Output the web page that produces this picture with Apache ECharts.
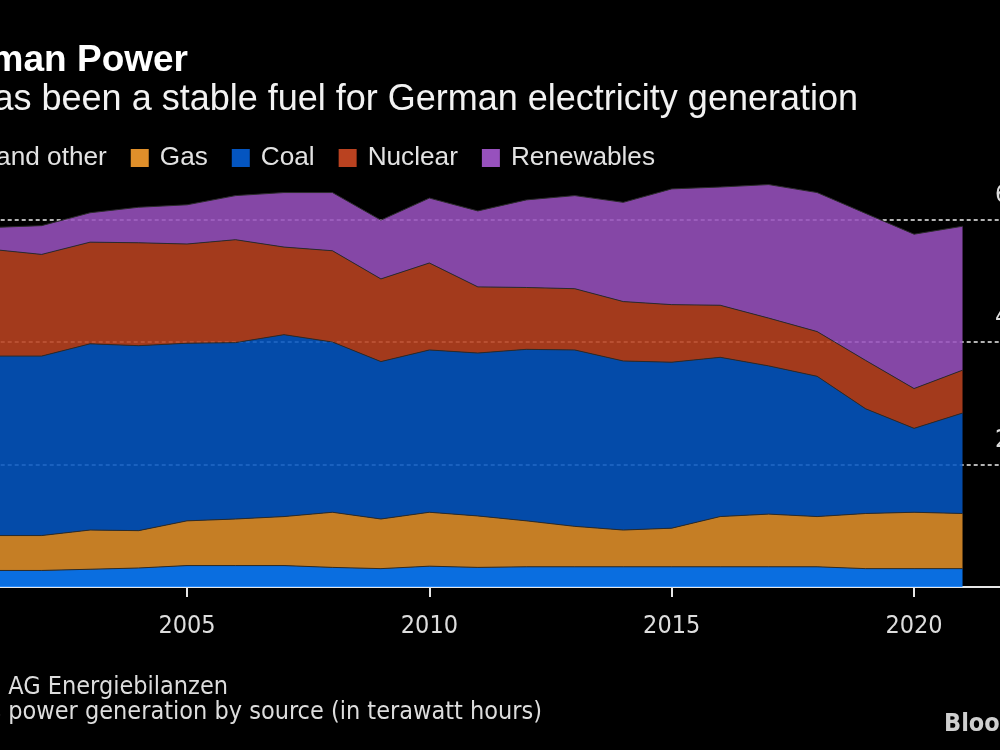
<!DOCTYPE html>
<html>
<head>
<meta charset="utf-8">
<script src="https://cdn.jsdelivr.net/npm/echarts@6/dist/echarts.min.js"></script>
<style>
html,body{margin:0;padding:0;background:#000;overflow:hidden;width:1000px;height:750px;position:relative}
#chart{position:absolute;left:-100px;top:0;width:1200px;height:750px}
</style>
</head>
<body>
<div id="chart"></div>
<script>
// ---- data (TWh) ----
const years      = ['2000','2001','2002','2003','2004','2005','2006','2007','2008','2009','2010','2011','2012','2013','2014','2015','2016','2017','2018','2019','2020','2021','2022'];
const oilOther   = [27, 27, 27, 29, 31, 35, 35, 35, 32, 30, 34, 32, 33, 33, 33, 33, 33, 33, 33, 30, 30, 30];
const gas        = [49, 57, 57, 64, 61, 73, 76, 80, 90, 81, 88, 84, 75, 66, 60, 63, 82, 86, 82, 90, 92, 90];
const coal       = [291,293,293,304,302,290,288,297,278,257,265,266,280,288,276,271,260,242,229,171,137,164];
const nuclear    = [170,174,166,166,168,162,168,143,149,135,142,108,101,100, 97, 94, 85, 78, 73, 79, 65, 70];
const renewables = [38, 36, 47, 48, 58, 64, 72, 89, 95, 96,106,124,143,152,162,189,193,218,227,240,252,235];
const seriesNames = ['Oil and other','Gas','Coal','Nuclear','Renewables'];
const seriesColors = ['#0b7dff','#e08f2a','#0455c0','#ba4220','#9751bd'];
const yTicks = [0,200,400,600,800];

const OFF = 100; // container is shifted left by this many px
const condensed = '"DejaVu Sans Condensed","Liberation Sans Narrow",sans-serif';
const sans = '"Liberation Sans",Arial,sans-serif';

const valueSets = [oilOther, gas, coal, nuclear, renewables];
const series = seriesNames.map((name, k) => ({
  name: name,
  type: 'line',
  stack: 'total',
  data: valueSets[k],
  symbol: 'none',
  showSymbol: false,
  smooth: false,
  color: seriesColors[k],
  itemStyle: { color: seriesColors[k] },
  lineStyle: { width: 1, color: '#2b2b2b' },
  areaStyle: { color: seriesColors[k], opacity: 0.88 },
  emphasis: { disabled: true },
  silent: true,
  z: 2
}));

const chart = echarts.init(document.getElementById('chart'), null, { renderer: 'canvas' });
chart.setOption({
  backgroundColor: '#000',
  animation: false,
  grid: { left: 44.7, right: 89, top: 97, bottom: 163, outerBoundsMode: 'none', containLabel: false },
  legend: {
    data: seriesNames,
    right: 445,
    top: 145,
    padding: 0,
    itemGap: 24,
    itemWidth: 18,
    itemHeight: 18,
    icon: 'rect',
    itemStyle: { borderWidth: 0 },
    textStyle: { color: '#e2e2e2', fontSize: 26.2, fontFamily: sans, padding: [0, 0, 0, 6] },
    selectedMode: false
  },
  xAxis: {
    type: 'category',
    data: years,
    boundaryGap: false,
    axisLine: { show: true, lineStyle: { color: '#e6e6e6', width: 2 } },
    axisTick: { show: true, interval: 4, length: 10, lineStyle: { color: '#e6e6e6', width: 2 } },
    axisLabel: { interval: 4, color: '#dddddd', fontSize: 25, fontFamily: condensed, margin: 27 },
    splitLine: { show: false }
  },
  yAxis: {
    type: 'value',
    position: 'right',
    min: yTicks[0],
    max: yTicks[yTicks.length - 1],
    interval: 200,
    axisLine: { show: false },
    axisTick: { show: false },
    axisLabel: {
      color: '#dddddd', fontSize: 25, fontFamily: condensed,
      margin: -16, align: 'left', verticalAlign: 'bottom', padding: [0, 0, 12, 0],
      showMinLabel: false, showMaxLabel: false
    },
    splitLine: { show: true, showMinLine: false, showMaxLine: false,
      lineStyle: { color: '#b4b4b4', width: 2, type: [4, 3] } }
  },
  graphic: [
    { type: 'text', z: 10, style: { text: 'German Power', x: 188 + OFF, y: 61, fill: '#ffffff',
      font: 'bold 37px ' + sans, textAlign: 'right', align: 'right', textVerticalAlign: 'middle', verticalAlign: 'middle' } },
    { type: 'text', z: 10, style: { text: 'Gas has been a stable fuel for German electricity generation', x: 858 + OFF, y: 100, fill: '#f2f2f2',
      font: '36px ' + sans, textAlign: 'right', align: 'right', textVerticalAlign: 'middle', verticalAlign: 'middle' } },
    { type: 'text', z: 10, style: { text: 'Source: AG Energiebilanzen', x: 228 + OFF, y: 687, fill: '#dddddd',
      font: '25px ' + condensed, textAlign: 'right', align: 'right', textVerticalAlign: 'middle', verticalAlign: 'middle' } },
    { type: 'text', z: 10, style: { text: 'Note: Gross power generation by source (in terawatt hours)', x: 542 + OFF, y: 712, fill: '#dddddd',
      font: '25px ' + condensed, textAlign: 'right', align: 'right', textVerticalAlign: 'middle', verticalAlign: 'middle' } },
    { type: 'text', z: 10, style: { text: 'Bloomberg', x: 944 + OFF, y: 724, fill: '#cfcfcf',
      font: 'bold 25px ' + condensed, textAlign: 'left', align: 'left', textVerticalAlign: 'middle', verticalAlign: 'middle' } }
  ],
  series: series
});
</script>
</body>
</html>
